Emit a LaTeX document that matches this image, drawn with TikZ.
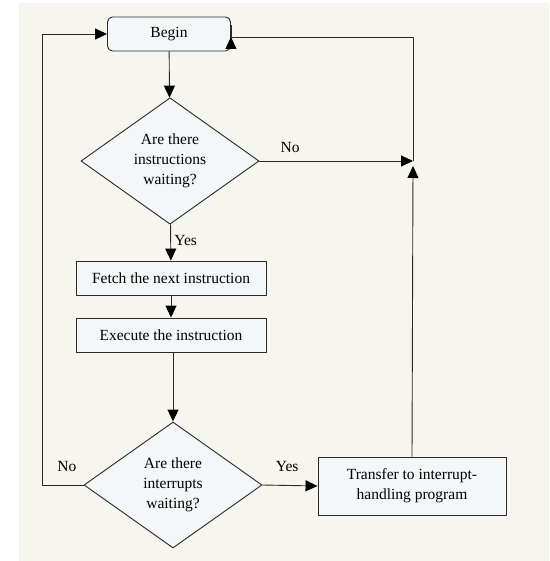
\documentclass[tikz,border=0pt]{standalone}
\usepackage{fontspec}
\setmainfont{Liberation Serif}
\usetikzlibrary{shapes.geometric,arrows.meta}
\definecolor{panel}{HTML}{F6F6EE}
\definecolor{boxfill}{HTML}{F3F7F8}
\definecolor{ink}{HTML}{2A2A2A}
\begin{document}
\begin{tikzpicture}[x=1pt, y=-1pt, line join=round, font=\fontsize{15.5}{20}\selectfont,
		>={Triangle[length=12pt,width=11pt,color=black]},
		conn/.style={draw=ink, line width=0.9pt},
		proc/.style={rectangle, draw=ink, line width=0.9pt, fill=boxfill, minimum width=190pt, minimum height=34pt, inner sep=2pt},
		start/.style={proc, rounded corners=5pt, minimum width=123pt},
		test/.style={diamond, draw=ink, line width=0.9pt, fill=boxfill, minimum width=178pt, minimum height=126pt, inner sep=0pt, align=center}]
	\useasboundingbox (0,0) rectangle (549,561);
	\fill[panel] (19,3) rectangle (549,561);
	\node[start] (begin) at (169,34) {Begin};
	\node[test] (q1) at (170,161) {Are there\\instructions\\waiting?};
	\node[proc] (fetch) at (171,278) {Fetch the next instruction};
	\node[proc] (exec) at (171,335) {Execute the instruction};
	\node[test] (q2) at (173,485) {Are there\\interrupts\\waiting?};
	\node[proc, minimum width=188pt, minimum height=58pt, align=center] (trans) at (412,486) {Transfer to interrupt-\\handling program};
	\coordinate (jn) at (413,161);
	\coordinate (jnb) at (413,166);
	\coordinate (tr) at (413,37);
	\coordinate (lc) at (42,34);
	% main flow
	\draw[conn,->] (begin) -- (q1);
	\draw[conn,->] (q1) -- node[right, pos=.45]{Yes} (fetch);
	\draw[conn,->] (fetch) -- (exec);
	\draw[conn,->] (exec) -- (exec.south -| q2.north) -- (q2);
	% branches
	\draw[conn,->] (q1.east) -- node[above, pos=.2, yshift=5pt]{No} (jn);
	\draw[conn,->] (q2.east) -- node[above, pos=.45, yshift=10pt]{Yes} (trans.west);
	\draw[conn,->] (trans.north) -- (jnb);
	\draw[conn,->] (jn) -- (tr) -- (tr -| begin.east) -- ([yshift=-3pt]begin.east);
	\draw[conn,->] (q2.west) -| node[above, pos=.2, yshift=10pt]{No} (lc) -- (begin.west);
\end{tikzpicture}
\end{document}
